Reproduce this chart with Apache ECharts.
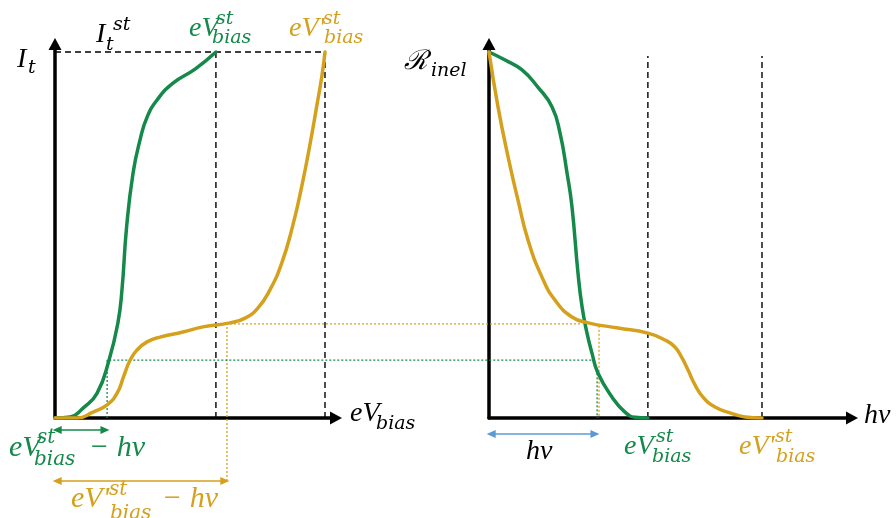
<!DOCTYPE html>
<html>
<head>
<meta charset="utf-8">
<script src="https://cdn.jsdelivr.net/npm/echarts@6/dist/echarts.min.js"></script>
<style>
  html, body { margin: 0; padding: 0; background: #ffffff; }
  #chart { width: 896px; height: 518px; }
</style>
</head>
<body>
<div id="chart"></div>
<script>
// Tunnelling current versus bias (left) and inelastic ratio versus photon energy (right)
const GREEN = '#14894a';
const GOLD = '#d5a11c';
const BLUE = '#5b9bd5';
const INK = '#000000';

// I_t(eV_bias) for the two onsets (bias axis: 0..100 = 0..eV'^st, current axis: 0..100 = 0..I_t^st)
const currentGreen = [
  [0, 0], [5.6, 0.3], [10.4, 2.7], [15.6, 6.8], [20.0, 15.8], [23.3, 26.0], [24.8, 35.0],
  [26.5, 52.0], [28.9, 66.9], [31.5, 76.0], [34.1, 82.2], [37.8, 86.9], [43.7, 91.5],
  [52.0, 95.4], [59.6, 100]
];
const currentGold = [
  [0, 0], [8.1, 0], [14.1, 1.6], [19.3, 3.6], [23.0, 6.8], [25.5, 11.5], [27.8, 15.8],
  [30.4, 18.6], [34.1, 20.8], [38.9, 22.1], [47.4, 23.5], [54.8, 24.9], [64.8, 26.0],
  [70.4, 27.3], [75.2, 30.1], [79.6, 35.0], [84.1, 42.6], [88.1, 52.7], [91.5, 63.7],
  [94.4, 74.6], [97.0, 85.5], [98.9, 93.7], [100, 100]
];

// R_inel(hν) for the two onsets (photon axis: 0..100 = 0..eV'^st)
const ratioGreen = [
  [0, 100], [5.9, 97.8], [12.1, 95.1], [17.9, 90.4], [23.1, 85.0], [26.0, 77.9],
  [28.6, 66.9], [30.4, 57.7], [32.6, 39.6], [34.1, 30.3], [35.9, 23.2],
  [37.7, 17.8], [39.9, 12.3], [45.1, 5.7], [49.8, 1.6], [53.5, 0.2], [58.2, 0]
];
const ratioGold = [
  [0, 100], [3.3, 85.0], [7.0, 71.3], [10.6, 59.6], [14.3, 48.6], [19.4, 38.5],
  [24.2, 32.2], [30.4, 27.6], [36.3, 26.0], [47.3, 24.6], [58.2, 23.2], [64.5, 21.3],
  [68.1, 19.4], [70.7, 16.4], [72.9, 13.1], [75.5, 9.0], [78.4, 5.7], [82.8, 3.0],
  [88.3, 1.4], [93.8, 0.3], [100, 0]
];

// Guide positions
const itStep = 100;              // I_t^st
const biasStepGreen = 59.6;      // eV_bias^st
const biasStepGold = 100;        // eV'_bias^st
const photonStepGreen = 58.2;    // eV_bias^st on the hν axis
const photonStepGold = 100;      // eV'_bias^st on the hν axis
const photonGuideTop = 98.9;
const levelGreen = 15.8;         // current reached at eV_bias^st − hν
const levelGold = 25.7;          // current reached at eV'_bias^st − hν
const shiftGreen = 19.3;         // eV_bias^st − hν
const shiftGold = 63.7;          // eV'_bias^st − hν
const bridgeEndGreen = 199.3;    // levels carried across to the hν panel (bias-axis units)
const bridgeEndGold = 195.2;
const hvGreen = 39.6;            // hν on the photon axis
const hvGold = 40.3;
const arrowRowGreen = -3.3;
const arrowRowGold = -17.2;
const arrowRowHv = -4.4;

// Axis extents (arrow heads sit just past the ends)
const biasAxisMax = 104.07;
const photonAxisMax = 132.97;
const levelAxisMax = 102.19;
const overlayBiasMax = 296.3;
const overlayLevelMin = -27.32;

function axisPair(gridIndex, xMax) {
  const line = {
    show: true,
    onZero: true,
    symbol: ['none', 'triangle'],
    symbolSize: [13, 12],
    lineStyle: { color: INK, width: 3.5 }
  };
  const bare = { axisTick: { show: false }, axisLabel: { show: false }, splitLine: { show: false } };
  return {
    x: Object.assign({ type: 'value', gridIndex, min: 0, max: xMax, axisLine: line }, bare),
    y: Object.assign({ type: 'value', gridIndex, min: 0, max: levelAxisMax, axisLine: line }, bare)
  };
}
function hiddenPair(gridIndex, xMax) {
  return {
    x: { type: 'value', gridIndex, min: 0, max: xMax, show: false },
    y: { type: 'value', gridIndex, min: overlayLevelMin, max: levelAxisMax, show: false }
  };
}
const leftAxes = axisPair(0, biasAxisMax);
const rightAxes = axisPair(1, photonAxisMax);
// overlays sharing each panel's scale, extended to reach the labels underneath and across the gap
const leftOverlay = hiddenPair(2, overlayBiasMax);
const rightOverlay = hiddenPair(3, photonAxisMax);

function curve(data, color, axis) {
  return {
    type: 'line', data, xAxisIndex: axis, yAxisIndex: axis,
    smooth: 0.5, symbol: 'none', silent: true, z: 5,
    lineStyle: { color, width: 3.5, cap: 'round', join: 'round' }
  };
}
function guide(data, color, axis, dash, width) {
  return {
    type: 'line', data, xAxisIndex: axis, yAxisIndex: axis,
    symbol: 'none', silent: true, z: 2,
    lineStyle: { color, width, type: dash }
  };
}
function span(from, to, color, axis) {
  return {
    type: 'line', data: [], xAxisIndex: axis, yAxisIndex: axis, silent: true,
    markLine: {
      silent: true, symbol: ['triangle', 'triangle'], symbolSize: [8, 9],
      label: { show: false },
      lineStyle: { color, width: 1.6, type: 'solid' },
      data: [[{ coord: from }, { coord: to }]]
    }
  };
}

const DASH = [6, 4], DOT = [2, 2];
const series = [
  // left panel guides
  guide([[0, itStep], [biasStepGold, itStep]], INK, 2, DASH, 1.4),
  guide([[biasStepGreen, 0], [biasStepGreen, itStep]], INK, 2, DASH, 1.4),
  guide([[biasStepGold, 0], [biasStepGold, itStep]], INK, 2, DASH, 1.4),
  guide([[shiftGold, arrowRowGold], [shiftGold, levelGold], [bridgeEndGold, levelGold]], GOLD, 2, DOT, 1.3),
  guide([[shiftGreen, 0], [shiftGreen, levelGreen], [bridgeEndGreen, levelGreen]], GREEN, 2, DOT, 1.3),
  // right panel guides
  guide([[photonStepGreen, 0], [photonStepGreen, photonGuideTop]], INK, 3, DASH, 1.4),
  guide([[photonStepGold, 0], [photonStepGold, photonGuideTop]], INK, 3, DASH, 1.4),
  guide([[hvGold, levelGold - 0.5], [hvGold, 0]], GOLD, 3, DOT, 1.3),
  guide([[hvGreen, levelGreen - 2.5], [hvGreen, 0]], GREEN, 3, DOT, 1.3),
  // spans
  span([0.8, arrowRowGreen], [shiftGreen - 0.8, arrowRowGreen], GREEN, 2),
  span([0.8, arrowRowGold], [shiftGold - 0.8, arrowRowGold], GOLD, 2),
  span([0.8, arrowRowHv], [hvGreen - 0.8, arrowRowHv], BLUE, 3),
  // curves
  curve(currentGreen, GREEN, 0),
  curve(currentGold, GOLD, 0),
  curve(ratioGreen, GREEN, 1),
  curve(ratioGold, GOLD, 1)
];

// Math-style labels: main glyphs, superscripts and subscripts as separate text pieces
const MAIN = '"Liberation Serif", "DejaVu Serif", serif';
const SCRIPT = '"DejaVu Serif", "Liberation Serif", serif';
function txt(text, x, baseline, size, color, family) {
  return {
    type: 'text', silent: true, z: 20,
    style: {
      text, x, y: baseline - 0.3 * size,
      font: 'italic ' + size + 'px ' + (family || MAIN),
      fill: color, align: 'left', verticalAlign: 'middle'
    }
  };
}
const labels = [
  // I_t
  txt('I', 17, 68, 28, INK), txt('t', 28, 74, 19, INK, SCRIPT),
  // I_t^st
  txt('I', 96, 43, 28, INK), txt('t', 106, 51, 19, INK, SCRIPT), txt('st', 113, 31, 19, INK, SCRIPT),
  // eV_bias^st (green)
  txt('eV', 189, 37, 28, GREEN), txt('st', 216, 25, 19, GREEN, SCRIPT), txt('bias', 212, 44, 19, GREEN, SCRIPT),
  // eV'_bias^st (gold)
  txt("eV'", 289, 37, 28, GOLD),
  txt('st', 323, 25, 19, GOLD, SCRIPT), txt('bias', 324, 44, 19, GOLD, SCRIPT),
  // eV_bias axis title
  txt('eV', 350, 422, 28, INK), txt('bias', 376, 430, 19, INK, SCRIPT),
  // R_inel axis title
  txt('\u211B', 404, 70, 27, INK, SCRIPT), txt('inel', 431, 77, 19, INK, SCRIPT),
  // hν axis title
  txt('h\u03BD', 864, 424, 28, INK),
  // eV_bias^st − hν
  txt('eV', 9, 457, 30, GREEN), txt('st', 37, 444, 20, GREEN, SCRIPT), txt('bias', 34, 466, 20, GREEN, SCRIPT),
  txt('\u2212 h\u03BD', 89, 457, 30, GREEN),
  // eV'_bias^st − hν
  txt("eV'", 71, 508, 30, GOLD),
  txt('st', 109, 496, 20, GOLD, SCRIPT), txt('bias', 110, 520, 20, GOLD, SCRIPT),
  txt('\u2212 h\u03BD', 162, 508, 30, GOLD),
  // labels under the hν axis
  txt('h\u03BD', 526, 460, 28, INK),
  txt('eV', 624, 455, 28, GREEN), txt('st', 656, 443, 19, GREEN, SCRIPT), txt('bias', 652, 463, 19, GREEN, SCRIPT),
  txt("eV'", 739, 455, 28, GOLD),
  txt('st', 775, 443, 19, GOLD, SCRIPT), txt('bias', 776, 463, 19, GOLD, SCRIPT)
];

const chart = echarts.init(document.getElementById('chart'), null, { renderer: 'canvas' });
chart.setOption({
  animation: false,
  backgroundColor: '#ffffff',
  grid: [
    { left: 55, top: 44, width: 281, height: 374 },
    { left: 489, top: 44, width: 363, height: 374 },
    { left: 55, top: 44, width: 800, height: 474 },
    { left: 489, top: 44, width: 363, height: 474 }
  ],
  xAxis: [leftAxes.x, rightAxes.x, leftOverlay.x, rightOverlay.x],
  yAxis: [leftAxes.y, rightAxes.y, leftOverlay.y, rightOverlay.y],
  series,
  graphic: labels
});
</script>
</body>
</html>
